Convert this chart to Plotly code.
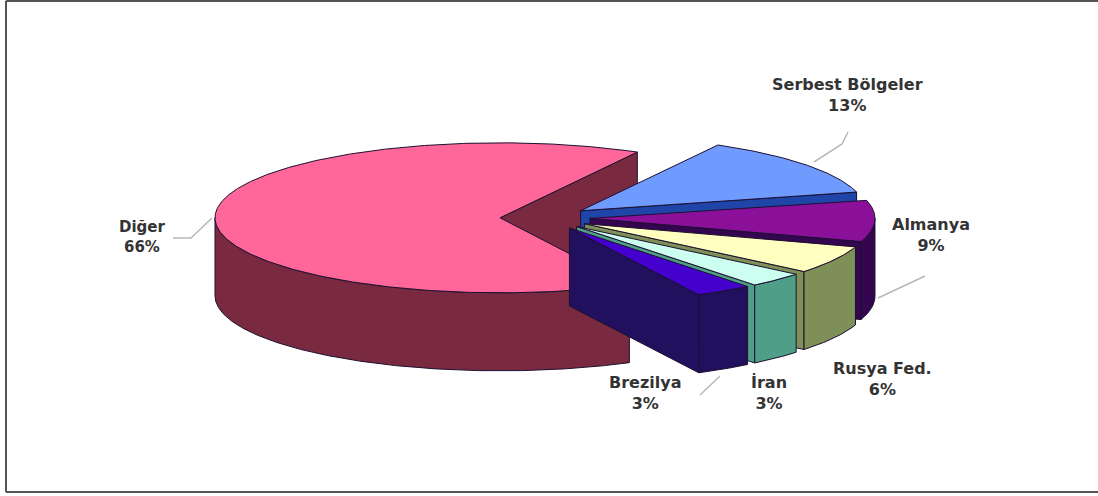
import numpy as np
import plotly.graph_objects as go

categories = ["Diğer", "Serbest Bölgeler", "Almanya", "Rusya Fed.", "İran", "Brezilya"]
values = [65.5, 13.0, 9.0, 6.0, 3.25, 3.25]
percent_labels = ["66%", "13%", "9%", "6%", "3%", "3%"]

top_colors = ["#FF6699", "#6F9BFF", "#8A109A", "#FFFFC0", "#CCFFF0", "#4400CC"]
side_colors = ["#7A2A40", "#1F45A8", "#33064F", "#7F8F58", "#4F9E88", "#21105E"]
label_xy = [(142, 237), (847, 95), (931, 235), (882, 379), (769, 393), (645, 393)]
label_size = [15, 16, 16, 16, 16, 16]
leaders = [[(173, 238), (191, 238), (212, 218)], [(848, 132), (842, 144), (814, 162)],
           [(925, 276), (878, 298)], [], [], [(720, 376), (700, 395)]]

CX, CY, A, B, DEPTH, EXPLODE = 545.0, 218.0, 285.0, 75.0, 78.0, 45.0
START = 61.2 + values[0] * 3.6


def rim(c, t0, t1):
    t = np.radians(np.linspace(t0, t1, max(int(abs(t1 - t0)) * 2, 2) + 1))
    return c[0] + A * np.cos(t), c[1] - B * np.sin(t)


fig = go.Figure()


def poly(x, y, color):
    fig.add_trace(go.Scatter(
        x=list(x) + [x[0]], y=list(y) + [y[0]], mode="lines", fill="toself",
        fillcolor=color, line=dict(color="#1c1030", width=1),
        hoverinfo="skip", showlegend=False))


def wall(c, t0, t1, color):
    x, y = rim(c, t0, t1)
    poly(np.r_[x, x[::-1]], np.r_[y, y[::-1] + DEPTH], color)


def face(c, t, color):
    x, y = rim(c, t, t)
    ax = np.array([c[0], x[0], x[0], c[0]])
    ay = np.array([c[1], y[0], y[0] + DEPTH, c[1] + DEPTH])
    poly(ax, ay, color)


# slice angles, clockwise from START
ends = START - np.cumsum(np.array(values) * 3.6)
starts = np.r_[START, ends[:-1]]
centers = []
for s, e in zip(starts, ends):
    m = np.radians((s + e) / 2)
    centers.append((CX + EXPLODE * np.cos(m), CY - EXPLODE * B / A * np.sin(m)))

# large slice: back cut face, outer wall, top
c = centers[0]
face(c, ends[0], side_colors[0])
wall(c, starts[0], 180, side_colors[0])
x, y = rim(c, starts[0], ends[0])
poly(np.r_[c[0], x], np.r_[c[1], y], top_colors[0])

# exploded slices, back to front
for i in range(1, len(values)):
    c = centers[i]
    s, e = starts[i], ends[i]
    face(c, e, side_colors[i])
    if e < 0:
        wall(c, min(s, 0), e, side_colors[i])
    x, y = rim(c, s, e)
    poly(np.r_[c[0], x], np.r_[c[1], y], top_colors[i])

for pts in leaders:
    if pts:
        fig.add_trace(go.Scatter(x=[p[0] for p in pts], y=[p[1] for p in pts], mode="lines",
                                 line=dict(color="#b8b8b8", width=1.5),
                                 hoverinfo="skip", showlegend=False))

for name, pct, (lx, ly), sz in zip(categories, percent_labels, label_xy, label_size):
    fig.add_annotation(x=lx, y=ly, xref="x", yref="y", text=f"{name}<br>{pct}", showarrow=False,
                       font=dict(family="DejaVu Sans", size=sz, color="#333333", weight="bold"),
                       align="center")

line = dict(color="#555555", width=2)
fig.add_shape(type="line", x0=6, x1=6, y0=1, y1=492, xref="x", yref="y", line=line)
fig.add_shape(type="line", x0=6, x1=1098, y0=1, y1=1, xref="x", yref="y", line=line)
fig.add_shape(type="line", x0=6, x1=1098, y0=492, y1=492, xref="x", yref="y", line=line)

fig.update_xaxes(range=[0, 1098], visible=False)
fig.update_yaxes(range=[496, 0], visible=False)
fig.update_layout(width=1098, height=496, margin=dict(l=0, r=0, t=0, b=0),
                  paper_bgcolor="white", plot_bgcolor="white", showlegend=False)
fig.write_html("out.html", config=dict(displayModeBar=False),
               post_script="document.body.style.margin='0';document.body.style.overflow='hidden';")
